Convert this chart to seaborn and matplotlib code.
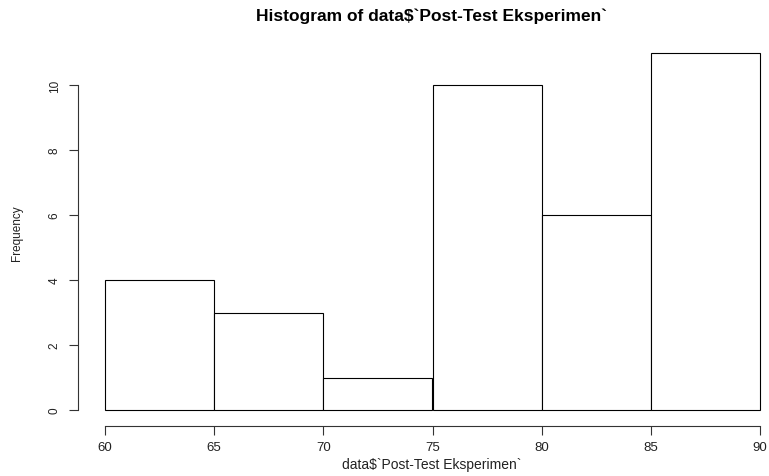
import matplotlib
matplotlib.use("Agg")
import matplotlib.pyplot as plt
import seaborn as sns

# bin edges and counts
bin_edges = [60, 65, 70, 75, 80, 85, 90]
bin_mids = [62.5, 67.5, 72.5, 77.5, 82.5, 87.5]
counts = [4, 3, 1, 10, 6, 11]
x_ticks = [60, 65, 70, 75, 80, 85, 90]
y_ticks = [0, 2, 4, 6, 8, 10]

sns.set_style("ticks")
plt.rcParams["font.family"] = ["Liberation Sans", "DejaVu Sans"]

W, H = 769, 477
fig = plt.figure(figsize=(W / 100, H / 100), dpi=100)
ax = fig.add_axes([105 / W, 1 - 411 / H, (760 - 105) / W, (411 - 53.5) / H])

sns.histplot(x=bin_mids, weights=counts, bins=bin_edges, ax=ax,
             color="white", edgecolor="black", linewidth=0.8, alpha=1)
for p in ax.patches:
    p.set_clip_on(False)

ax.set_xlim(60, 90)
ax.set_ylim(0, 11)
ax.set_xticks(x_ticks)
ax.set_yticks(y_ticks)
ax.set_xlabel("")
ax.set_ylabel("")

for s in ["top", "right"]:
    ax.spines[s].set_visible(False)
ax.spines["left"].set_position(("outward", 27 * 0.72))
ax.spines["bottom"].set_position(("outward", 16 * 0.72))
ax.spines["left"].set_bounds(0, 10)
ax.spines["bottom"].set_bounds(60, 90)
for s in ["left", "bottom"]:
    ax.spines[s].set_linewidth(0.8)
    ax.spines[s].set_color("#333333")

ax.tick_params(axis="both", length=6.5, width=0.8, color="#333333",
               labelcolor="#222222")
ax.tick_params(axis="x", pad=4, labelsize=9.5)
ax.tick_params(axis="y", pad=6, labelsize=8.5)
for lbl in ax.get_yticklabels():
    lbl.set_rotation(90)
    lbl.set_va("center")

fig.text(432 / W, 1 - 465 / H, "data$`Post-Test Eksperimen`", fontsize=10,
         color="#222222", ha="center", va="center")
fig.text(17 / W, 1 - 233 / H, "Frequency", fontsize=8.5, color="#222222",
         rotation=90, ha="center", va="center")
fig.text(432 / W, 1 - 16 / H, "Histogram of data$`Post-Test Eksperimen`",
         fontsize=12.5, fontweight="bold", color="black",
         ha="center", va="center")

fig.savefig("out.png", dpi=100)
